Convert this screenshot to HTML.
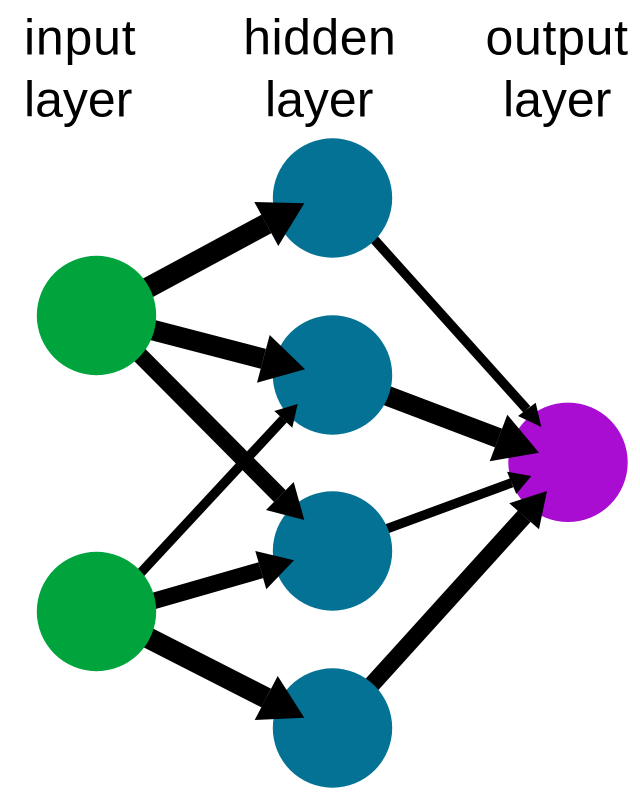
<!DOCTYPE html>
<html>
<head>
<meta charset="utf-8">
<style>
html,body{margin:0;padding:0;background:#fff;width:640px;height:800px;overflow:hidden}
svg{display:block}
text{font-family:"Liberation Sans",sans-serif;font-size:50px;fill:#000}
</style>
</head>
<body>
<svg width="640" height="800" viewBox="0 0 640 800" xmlns="http://www.w3.org/2000/svg">
<rect width="640" height="800" fill="#fff"/>
<text x="24" y="54.5" letter-spacing="0.8">input</text>
<text x="24" y="116.5">layer</text>
<text x="243.2" y="54.5" letter-spacing="0.5">hidden</text>
<text x="265" y="116.5">layer</text>
<text x="485.5" y="54.5" letter-spacing="0.7">output</text>
<text x="503" y="116.5">layer</text>
<g stroke="#000" fill="none">
<line x1="96.5" y1="315.5" x2="266.3" y2="224" stroke-width="21"/>
<line x1="96.5" y1="315.5" x2="263.3" y2="358.8" stroke-width="20.6"/>
<line x1="124.7" y1="339.8" x2="279.8" y2="496" stroke-width="16.5"/>
<line x1="128.1" y1="586.4" x2="283.3" y2="419.3" stroke-width="9.5"/>
<line x1="135.5" y1="606.2" x2="260.8" y2="570.2" stroke-width="16.5"/>
<line x1="96.5" y1="611.5" x2="266.2" y2="698" stroke-width="21"/>
<line x1="361.6" y1="225.4" x2="526.8" y2="409.3" stroke-width="9.5"/>
<line x1="332.5" y1="375" x2="498.5" y2="438" stroke-width="20"/>
<line x1="369.3" y1="535.2" x2="511.6" y2="482.8" stroke-width="9.5"/>
<line x1="332.5" y1="728" x2="524.2" y2="516.3" stroke-width="17"/>
</g>
<circle cx="96.5" cy="315.5" r="59.7" fill="#00a33c"/>
<circle cx="96.5" cy="611.5" r="59.7" fill="#00a33c"/>
<circle cx="332.5" cy="198" r="59.7" fill="#037294"/>
<circle cx="332.5" cy="375" r="59.7" fill="#037294"/>
<circle cx="332.5" cy="551" r="59.7" fill="#037294"/>
<circle cx="332.5" cy="728" r="59.7" fill="#037294"/>
<circle cx="568" cy="462.3" r="59.7" fill="#a80dd1"/>
<g fill="#000">
<polygon points="304.3,203.3 254.3,202 278.3,246"/>
<polygon points="305,369.3 269.7,335 257,382.7"/>
<polygon points="304.3,520 293.7,482 266,510"/>
<polygon points="297.7,404 274.3,411 292.3,427.7"/>
<polygon points="294,560.3 255.3,551 266.3,589.3"/>
<polygon points="304.3,717.7 277.7,676 254.7,720"/>
<polygon points="541.3,427 535.7,402.7 518,416"/>
<polygon points="539,452.7 507.3,414.7 489.7,461.3"/>
<polygon points="531.3,476 507,471.7 516.3,494"/>
<polygon points="547,491 509.3,503.3 539,529.3"/>
</g>
</svg>
</body>
</html>
